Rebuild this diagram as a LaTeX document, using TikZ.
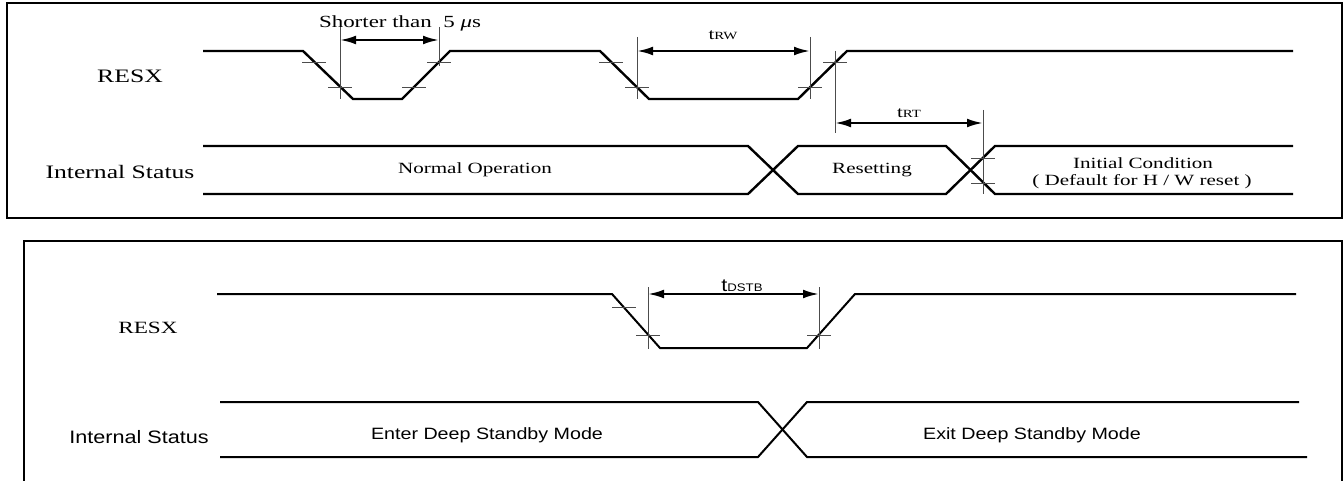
\documentclass[tikz,border=0pt]{standalone}
\usepackage{fontspec}
\setmainfont{Liberation Serif}[FakeStretch=1.35]
\newfontfamily\arialw{Liberation Sans}[FakeStretch=1.2]
\usetikzlibrary{arrows.meta}

\tikzset{
  sig/.style={line width=1.2pt},
  thinmark/.style={gray!60!black, line width=0.45pt},
  dim/.style={line width=1.1pt, {Latex[length=8pt,width=4.4pt]}-{Latex[length=8pt,width=4.4pt]}},
  frame/.style={line width=1pt},
  lbl/.style={inner sep=0pt, font=\fontsize{9.5}{11}\selectfont},
  txt/.style={inner sep=0pt, font=\fontsize{7.8}{9}\selectfont},
  stxt/.style={inner sep=0pt, font=\arialw\fontsize{8.2}{9}\selectfont}
}

\begin{document}
\begin{tikzpicture}[x=0.5pt, y=-0.5pt]
  \useasboundingbox (0,0) rectangle (1344,481);

  % hardware reset
  \draw[frame] (7,3) rectangle (1342,218);
  \node[lbl] (resx) at (130,76) {RESX};
  \node[lbl] (status) at (120,172) {Internal Status};

  \draw[sig] (203,51) -- (303,51) -- (353,99) -- (402,99) -- (450,51) -- (600,51)
    -- (649,99) -- (798,99) -- (847,51) -- (1293,51);
  \draw[sig] (203,146) -- (748,146) -- (798,194) -- (946,194) -- (995,146) -- (1293,146);
  \draw[sig] (203,194) -- (748,194) -- (798,146) -- (946,146) -- (995,194) -- (1293,194);

  \foreach \tx/\ty in {314/62, 340/87, 414/87, 439/62, 611/62, 637/87, 810/87, 835/62, 983/158, 983/183}
    \draw[thinmark] (\tx-12,\ty) -- (\tx+12,\ty);

  \draw[thinmark] (340,27) -- (340,99);
  \draw[thinmark] (439,27) -- (439,66);
  \draw[thinmark] (637,37) -- (637,99);
  \draw[thinmark] (810,37) -- (810,99);
  \draw[thinmark] (835,51) -- (835,133);
  \draw[thinmark] (983,110) -- (983,194);

  \coordinate (s1) at (340,40);
  \coordinate (s2) at (439,40);
  \coordinate (rw1) at (637,51);
  \coordinate (rw2) at (810,51);
  \coordinate (rt1) at (835,123);
  \coordinate (rt2) at (983,123);
  \draw[dim] (s1) -- (s2);
  \draw[dim] (rw1) -- (rw2);
  \draw[dim] (rt1) -- (rt2);

  \node[txt, font=\fontsize{8.5}{9}\selectfont] (short) at (400,23) {Shorter than\ \ 5 \textit{μ}s};
  \node[txt] (trw) at (723,35) {t{\fontsize{5.5}{6}\selectfont RW}};
  \node[txt] (trt) at (909,113) {t{\fontsize{5.5}{6}\selectfont RT}};
  \node[txt] (normal) at (475,170) {Normal Operation};
  \node[txt] (reset) at (872,170) {Resetting};
  \node[txt] (init) at (1143,163) {Initial Condition};
  \node[txt] (dflt) at (1142,182) {( Default for H / W reset )};

  % deep standby
  \draw[frame] (24,481) -- (24,241) -- (1342,241) -- (1342,481);
  \node[lbl, font=\fontsize{8.6}{10}\selectfont] (resx2) at (148,328) {RESX};
  \node[stxt, font=\arialw\fontsize{9}{10}\selectfont] (status2) at (139,437) {Internal Status};

  \draw[sig, line width=1pt] (217,294) -- (612,294) -- (660,348) -- (807,348) -- (855,294) -- (1296,294);
  \draw[sig, line width=1pt] (220,402) -- (758,402) -- (807,457) -- (1307,457);
  \draw[sig, line width=1pt] (220,457) -- (758,457) -- (807,402) -- (1299,402);

  \foreach \tx/\ty in {624/307, 648/335, 819/335}
    \draw[thinmark] (\tx-12,\ty) -- (\tx+12,\ty);
  \draw[thinmark] (648,287) -- (648,349);
  \draw[thinmark] (819,287) -- (819,349);

  \coordinate (ds1) at (648,294);
  \coordinate (ds2) at (819,294);
  \draw[dim] (ds1) -- (ds2);

  \node[stxt, font=\arialw\fontsize{9}{10}\selectfont] (tdstb) at (742,286) {t{\fontsize{5.5}{6}\selectfont DSTB}};
  \node[stxt] (enter) at (487,435) {Enter Deep Standby Mode};
  \node[stxt] (exit) at (1032,435) {Exit Deep Standby Mode};
\end{tikzpicture}
\end{document}
